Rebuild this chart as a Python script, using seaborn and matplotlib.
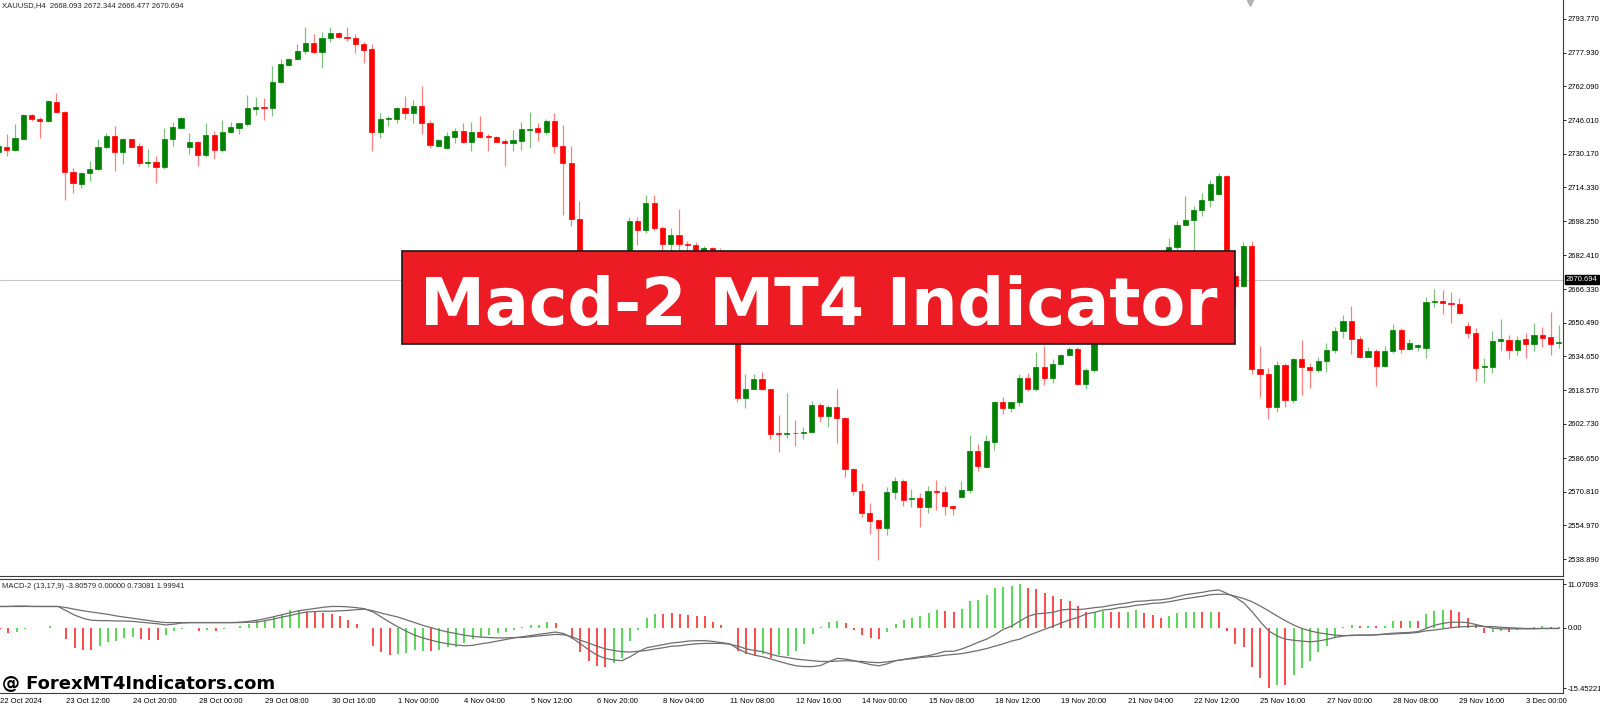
# XAUUSD H4 chart with the MACD-2 panel, redrawn from the screenshot
import numpy as np
import pandas as pd
import matplotlib
matplotlib.use('Agg')
import matplotlib.pyplot as plt
import matplotlib.transforms as mtransforms
from matplotlib.patches import Rectangle
import seaborn as sns


# candles, bar 0 = 22 Oct 2024
opens = [
    2731.0, 2733.5, 2731.8, 2737.3, 2748.5, 2746.6, 2745.8, 2754.8, 2750.1, 2721.8,
    2716.1, 2721.1, 2722.9, 2733.2, 2738.4, 2730.9, 2737.0, 2734.0, 2725.8, 2726.5,
    2724.1, 2737.2, 2742.5, 2733.4, 2735.7, 2729.5, 2738.9, 2732.1, 2740.5, 2742.5,
    2744.1, 2751.5, 2752.4, 2751.6, 2763.9, 2771.9, 2774.7, 2778.7, 2782.3, 2778.4,
    2784.7, 2787.3, 2785.4, 2784.7, 2782.0, 2779.5, 2740.6, 2746.4, 2746.6, 2751.6,
    2749.6, 2752.7, 2744.9, 2734.0, 2732.8, 2738.3, 2740.9, 2735.6, 2740.6, 2738.7,
    2738.3, 2736.1, 2735.3, 2736.4, 2741.6, 2742.2, 2740.6, 2745.8, 2734.0, 2726.0,
    2699.3, 2675.0, 2665.0, 2672.0, 2668.0, 2676.0, 2681.0, 2698.6, 2694.2, 2706.8,
    2695.0, 2687.5, 2691.9, 2687.6, 2687.0, 2684.5, 2685.7, 2684.5, 2672.0, 2662.0,
    2614.8, 2619.2, 2623.9, 2619.1, 2598.6, 2597.8, 2598.6, 2598.3, 2598.8, 2611.7,
    2606.5, 2610.9, 2605.4, 2581.3, 2571.3, 2560.9, 2557.4, 2553.8, 2570.5, 2576.0,
    2567.2, 2568.0, 2563.7, 2571.1, 2570.8, 2564.2, 2568.1, 2571.6, 2590.0, 2582.6,
    2594.4, 2612.9, 2610.1, 2612.9, 2624.6, 2619.1, 2629.8, 2624.6, 2631.0, 2635.2,
    2638.1, 2621.6, 2628.2, 2643.0, 2646.0, 2644.0, 2650.0, 2653.0, 2651.0, 2660.0,
    2668.0, 2673.0, 2686.0, 2696.6, 2698.9, 2703.7, 2708.4, 2711.2, 2719.9, 2672.5,
    2667.8, 2686.7, 2628.5, 2626.1, 2610.6, 2630.6, 2614.0, 2633.4, 2629.8, 2628.2,
    2632.4, 2637.6, 2646.6, 2651.3, 2642.7, 2634.5, 2637.3, 2630.2, 2637.3, 2647.1,
    2638.1, 2639.2, 2638.7, 2660.1, 2660.7, 2659.9, 2659.2, 2649.1, 2645.8, 2629.4,
    2629.8, 2641.9, 2642.4, 2637.6, 2642.7, 2640.5, 2644.5, 2643.9, 2640.8,
]
highs = [
    2734.3, 2739.5, 2744.2, 2748.8, 2748.8, 2747.4, 2755.6, 2758.7, 2750.5, 2723.3,
    2721.8, 2726.8, 2737.2, 2739.8, 2743.3, 2737.8, 2737.3, 2735.1, 2732.6, 2729.3,
    2742.2, 2745.3, 2747.4, 2740.2, 2736.2, 2744.6, 2740.9, 2746.1, 2745.2, 2744.9,
    2757.9, 2756.8, 2756.5, 2771.8, 2774.9, 2775.2, 2782.0, 2790.2, 2786.7, 2787.5,
    2790.2, 2787.8, 2790.2, 2786.5, 2782.8, 2782.0, 2749.6, 2748.2, 2752.1, 2757.4,
    2755.6, 2762.2, 2746.1, 2737.0, 2740.3, 2742.2, 2744.9, 2745.3, 2748.2, 2739.5,
    2738.6, 2737.0, 2741.4, 2745.0, 2750.1, 2744.6, 2746.6, 2749.6, 2743.8, 2733.9,
    2708.1, 2678.0, 2674.0, 2676.0, 2678.0, 2682.0, 2700.2, 2700.2, 2710.7, 2710.7,
    2696.1, 2695.0, 2704.0, 2689.2, 2688.7, 2686.5, 2686.2, 2685.5, 2675.0, 2664.0,
    2626.1, 2626.1, 2627.1, 2619.3, 2606.9, 2617.2, 2604.6, 2601.5, 2613.6, 2612.8,
    2611.7, 2619.1, 2606.2, 2581.8, 2574.7, 2565.6, 2557.6, 2573.2, 2577.6, 2576.6,
    2571.9, 2570.0, 2573.5, 2576.3, 2573.5, 2564.5, 2575.8, 2597.5, 2593.3, 2597.5,
    2613.6, 2615.3, 2613.2, 2626.1, 2626.6, 2636.5, 2639.7, 2633.2, 2635.6, 2639.2,
    2639.2, 2629.0, 2645.0, 2648.0, 2650.0, 2652.0, 2655.0, 2658.0, 2662.0, 2670.0,
    2676.0, 2690.3, 2698.6, 2710.3, 2705.5, 2711.5, 2717.8, 2721.3, 2720.2, 2673.8,
    2688.7, 2689.0, 2639.5, 2629.0, 2632.6, 2631.7, 2633.7, 2642.4, 2631.6, 2634.2,
    2640.8, 2648.6, 2654.1, 2658.4, 2644.2, 2639.2, 2637.9, 2639.7, 2649.9, 2647.8,
    2642.7, 2640.3, 2662.8, 2666.4, 2665.9, 2665.1, 2662.3, 2650.7, 2647.8, 2634.0,
    2646.6, 2652.1, 2644.7, 2644.4, 2645.5, 2650.5, 2648.3, 2655.7, 2649.4,
]
lows = [
    2730.6, 2729.1, 2731.5, 2737.0, 2745.8, 2737.5, 2745.3, 2749.3, 2708.5, 2711.8,
    2714.2, 2717.5, 2722.5, 2732.3, 2722.2, 2725.4, 2733.2, 2724.4, 2724.1, 2716.6,
    2723.2, 2733.9, 2742.2, 2730.1, 2724.6, 2728.8, 2727.7, 2730.9, 2739.8, 2739.7,
    2743.5, 2748.6, 2746.1, 2748.0, 2763.7, 2771.8, 2774.4, 2777.3, 2777.9, 2770.5,
    2783.1, 2784.7, 2783.6, 2777.9, 2773.2, 2731.5, 2737.8, 2743.3, 2744.6, 2746.6,
    2744.9, 2739.5, 2733.1, 2733.2, 2732.4, 2735.1, 2735.1, 2731.7, 2737.5, 2731.7,
    2735.6, 2724.6, 2731.7, 2732.0, 2732.8, 2736.4, 2739.5, 2730.7, 2701.3, 2696.1,
    2672.0, 2660.0, 2662.0, 2664.0, 2666.0, 2674.0, 2679.0, 2687.2, 2693.0, 2694.2,
    2684.0, 2684.0, 2684.0, 2684.0, 2683.0, 2683.0, 2680.0, 2668.0, 2658.0, 2613.3,
    2610.4, 2619.0, 2618.8, 2595.5, 2589.7, 2596.0, 2592.3, 2595.5, 2598.3, 2603.8,
    2601.1, 2593.6, 2577.9, 2569.2, 2559.0, 2550.8, 2538.6, 2550.3, 2567.2, 2564.0,
    2563.4, 2554.3, 2560.9, 2562.1, 2559.8, 2559.8, 2567.9, 2570.0, 2580.7, 2582.3,
    2590.4, 2607.4, 2608.2, 2611.4, 2618.3, 2618.4, 2621.1, 2622.2, 2630.7, 2634.8,
    2621.1, 2619.1, 2627.4, 2640.0, 2642.0, 2643.0, 2647.0, 2649.0, 2650.0, 2658.0,
    2665.0, 2671.0, 2684.8, 2696.4, 2684.0, 2700.8, 2705.2, 2710.7, 2668.0, 2658.4,
    2667.5, 2626.3, 2615.6, 2605.1, 2608.5, 2610.9, 2612.5, 2616.4, 2619.5, 2627.4,
    2627.1, 2636.4, 2643.4, 2635.6, 2633.7, 2634.2, 2620.8, 2629.8, 2636.4, 2636.0,
    2637.6, 2637.2, 2634.0, 2658.1, 2654.6, 2650.5, 2654.6, 2643.1, 2623.0, 2621.9,
    2626.6, 2637.3, 2633.4, 2635.3, 2634.0, 2637.3, 2639.2, 2635.3, 2638.7,
]
closes = [
    2733.9, 2732.0, 2737.8, 2748.3, 2746.4, 2745.8, 2754.9, 2749.7, 2721.6, 2716.3,
    2721.3, 2723.0, 2733.5, 2738.7, 2730.9, 2737.2, 2733.5, 2726.0, 2726.5, 2724.1,
    2737.2, 2742.7, 2747.1, 2735.7, 2729.5, 2738.9, 2732.1, 2740.6, 2742.7, 2744.6,
    2751.6, 2752.4, 2751.8, 2764.2, 2772.4, 2774.9, 2778.8, 2782.3, 2778.4, 2784.7,
    2787.0, 2785.4, 2784.7, 2782.0, 2779.1, 2740.6, 2746.6, 2746.9, 2751.6, 2749.6,
    2752.7, 2744.9, 2734.2, 2736.7, 2738.4, 2741.1, 2735.9, 2740.6, 2738.3, 2738.3,
    2735.9, 2735.3, 2736.5, 2741.7, 2742.0, 2740.6, 2745.8, 2734.0, 2726.0, 2699.3,
    2675.0, 2665.0, 2672.0, 2668.0, 2676.0, 2681.0, 2698.6, 2694.2, 2706.8, 2695.0,
    2687.5, 2691.9, 2687.6, 2687.2, 2684.8, 2685.7, 2684.5, 2672.0, 2662.0, 2614.8,
    2619.2, 2623.9, 2619.1, 2598.0, 2598.0, 2598.6, 2598.3, 2599.1, 2611.7, 2606.5,
    2610.9, 2605.4, 2581.3, 2571.3, 2560.9, 2557.1, 2553.8, 2570.5, 2576.0, 2566.9,
    2568.0, 2563.7, 2571.1, 2570.6, 2564.2, 2563.2, 2571.6, 2590.0, 2582.9, 2594.7,
    2613.2, 2610.1, 2612.9, 2624.6, 2619.1, 2629.8, 2624.6, 2631.0, 2635.2, 2638.1,
    2621.6, 2628.2, 2643.0, 2646.0, 2644.0, 2650.0, 2653.0, 2651.0, 2660.0, 2668.0,
    2673.0, 2686.0, 2696.6, 2698.9, 2703.7, 2708.4, 2715.8, 2719.9, 2672.5, 2667.8,
    2686.7, 2628.5, 2626.1, 2610.6, 2630.6, 2614.0, 2633.4, 2629.4, 2628.2, 2632.4,
    2637.6, 2646.6, 2651.3, 2642.7, 2634.5, 2637.3, 2630.2, 2637.3, 2647.1, 2638.1,
    2640.8, 2639.9, 2660.1, 2660.7, 2659.6, 2659.2, 2654.9, 2645.8, 2629.3, 2630.1,
    2641.9, 2642.7, 2637.6, 2642.4, 2640.5, 2644.7, 2643.1, 2640.5, 2641.5,
]

# MACD-2 (13,17,9) histogram, its colour per bar (g/r) and the two lines
hist = [
    -0.3, -1.4, -1.1, -0.3, -0.1, -0.2, 0.4, -0.1, -2.8, -5.1,
    -5.8, -5.8, -4.7, -3.6, -3.5, -2.6, -2.4, -2.8, -3.1, -3.2,
    -1.9, -0.8, -0.3, -0.1, -0.8, -0.5, -0.8, -0.3, -0.2, 0.5,
    1.0, 2.0, 2.0, 2.7, 3.6, 4.4, 4.6, 4.0, 4.0, 3.7,
    3.6, 2.9, 2.0, 1.0, -0.2, -4.7, -6.2, -7.0, -6.6, -6.4,
    -5.8, -5.9, -5.9, -5.6, -5.0, -4.8, -4.0, -2.9, -2.4, -1.9,
    -1.4, -1.0, -0.5, 0.2, 0.8, 0.8, 1.4, 1.1, -0.2, -3.0,
    -6.3, -8.5, -9.8, -10.1, -9.1, -7.6, -3.3, -0.5, 2.5, 3.5,
    3.5, 3.8, 3.6, 3.3, 3.0, 2.9, 1.5, 0.7, -0.2, -6.0,
    -6.8, -7.0, -6.8, -7.8, -7.0, -7.2, -6.0, -4.2, -1.7, 0.2,
    1.5, 1.7, 1.2, -0.5, -1.9, -2.5, -2.8, -1.0, 1.0, 1.9,
    2.5, 3.0, 3.8, 4.4, 4.2, 4.1, 4.7, 6.8, 7.0, 8.3,
    10.0, 10.4, 10.6, 11.07, 10.0, 9.8, 8.8, 8.0, 7.2, 6.8,
    5.5, 4.1, 4.1, 4.2, 4.1, 4.1, 4.1, 4.5, 3.8, 3.2,
    2.4, 3.0, 3.8, 4.1, 4.1, 4.1, 4.1, 4.1, -0.8, -4.2,
    -4.8, -9.9, -12.8, -15.45, -14.5, -14.5, -12.0, -10.3, -8.5, -6.3,
    -4.6, -2.3, 0.2, 0.6, 0.4, 0.4, 0.4, 0.5, 1.7, 1.7,
    1.8, 1.7, 3.4, 4.3, 4.6, 4.5, 3.9, 2.4, 0.9, -1.4,
    -1.0, -0.8, -1.0, -0.6, -0.4, 0.3, 0.4, 0.3, 0.2,
]
hist_colors = ("rrgggrgrrr" "rrgggggrrr" "gggrrgrggg" "gggggggrrr" "rrrrrrrrgg"
               "ggrggggggg" "gggggggrrr" "rrrrgggggg" "rrrrrrrrrr" "rrgrgggggg"
               "ggrrrrrggg" "ggggrrgggg" "ggggrrrrrr" "rrggrrggrr" "rggggrgrrr"
               "rrrrgrgggg" "ggggrgrggr" "grgggrrrrr" "ggrggggrr")
macd_main = [
    5.4, 5.4, 5.5, 5.5, 5.4, 5.4, 5.4, 5.4, 4.3, 3.2,
    2.4, 1.9, 1.8, 1.8, 1.7, 1.7, 1.6, 1.4, 1.2, 1.0,
    0.7, 0.9, 1.2, 1.3, 1.3, 1.3, 1.3, 1.3, 1.3, 1.4,
    1.6, 1.9, 2.3, 2.8, 3.3, 3.8, 4.3, 4.6, 4.9, 5.2,
    5.4, 5.4, 5.3, 5.1, 4.8, 4.0, 2.7, 1.4, 0.2, -0.9,
    -1.9, -2.6, -3.2, -3.7, -4.1, -4.4, -4.6, -4.5, -4.1, -3.8,
    -3.4, -3.0, -2.6, -2.3, -2.0, -1.7, -1.4, -1.1, -1.5, -2.6,
    -4.1, -5.6, -7.0, -7.8, -8.2, -8.4, -7.4, -6.1, -5.1, -4.7,
    -4.3, -3.9, -3.7, -3.4, -3.3, -3.3, -3.5, -3.8, -4.1, -5.4,
    -6.4, -7.0, -7.4, -8.0, -8.6, -9.2, -9.7, -9.9, -9.9, -9.6,
    -8.6, -7.8, -8.0, -8.4, -8.9, -9.4, -9.7, -9.2, -8.4, -8.1,
    -7.7, -7.4, -7.1, -6.6, -6.0, -6.0, -5.4, -4.6, -3.7, -2.9,
    -1.8, -0.4, 0.4, 1.7, 2.9, 3.5, 3.7, 3.9, 4.5, 4.7,
    4.6, 4.8, 5.1, 5.3, 5.7, 6.0, 6.3, 6.7, 6.8, 7.0,
    7.1, 7.4, 7.9, 8.4, 8.7, 9.0, 9.4, 9.6, 8.7, 7.7,
    6.3, 4.1, 1.5, -0.8, -2.1, -2.9, -3.2, -3.4, -3.6, -3.4,
    -3.0, -2.5, -2.1, -1.9, -1.9, -1.9, -1.8, -1.6, -1.4, -1.3,
    -1.2, -1.0, -0.2, 0.6, 1.1, 1.4, 1.4, 1.3, 0.8, 0.3,
    -0.1, -0.3, -0.3, -0.3, -0.3, -0.3, -0.2, -0.2, -0.2,
]
macd_signal = [
    5.4, 5.4, 5.4, 5.4, 5.4, 5.4, 5.4, 5.4, 5.1, 4.7,
    4.3, 4.0, 3.7, 3.4, 3.0, 2.7, 2.4, 2.1, 1.8, 1.5,
    1.3, 1.3, 1.3, 1.3, 1.3, 1.3, 1.3, 1.3, 1.3, 1.3,
    1.4, 1.4, 1.8, 2.2, 2.7, 3.1, 3.6, 4.0, 4.1, 4.2,
    4.2, 4.3, 4.4, 4.6, 4.7, 4.3, 3.7, 3.2, 2.7, 2.0,
    1.3, 0.6, 0.0, -0.6, -1.1, -1.5, -1.9, -2.2, -2.4, -2.5,
    -2.6, -2.6, -2.5, -2.5, -2.3, -2.1, -1.9, -1.7, -1.8, -2.3,
    -3.2, -3.9, -4.7, -5.4, -5.8, -6.1, -6.2, -6.0, -5.8, -5.4,
    -5.1, -4.7, -4.6, -4.3, -4.1, -4.0, -4.0, -4.0, -4.2, -4.7,
    -5.4, -5.8, -6.1, -6.8, -7.3, -7.6, -8.0, -8.2, -8.4, -8.6,
    -8.6, -8.5, -8.4, -8.5, -8.6, -8.8, -8.9, -8.7, -8.4, -8.1,
    -7.9, -7.6, -7.4, -7.3, -7.0, -6.8, -6.6, -6.2, -5.8, -5.3,
    -4.7, -4.1, -3.4, -2.9, -2.0, -1.2, -0.4, 0.4, 1.2, 2.0,
    2.6, 3.5, 3.9, 4.5, 4.7, 5.1, 5.3, 5.7, 5.9, 6.2,
    6.3, 6.6, 7.0, 7.4, 7.7, 8.0, 8.4, 8.5, 8.5, 8.0,
    7.4, 6.6, 5.5, 4.3, 3.0, 1.8, 0.7, -0.2, -0.8, -1.3,
    -1.6, -1.9, -2.0, -2.0, -1.9, -1.9, -1.8, -1.7, -1.6, -1.5,
    -1.4, -1.2, -0.8, -0.6, -0.3, 0.0, 0.2, 0.3, 0.4, 0.3,
    0.3, 0.1, 0.0, -0.1, -0.2, -0.2, -0.2, -0.2, -0.2,
]

# axis texts
time_labels = ['22 Oct 2024', '23 Oct 12:00', '24 Oct 20:00', '28 Oct 00:00',
               '29 Oct 08:00', '30 Oct 16:00', '1 Nov 00:00', '4 Nov 04:00',
               '5 Nov 12:00', '6 Nov 20:00', '8 Nov 04:00', '11 Nov 08:00',
               '12 Nov 16:00', '14 Nov 00:00', '15 Nov 08:00', '18 Nov 12:00',
               '19 Nov 20:00', '21 Nov 04:00', '22 Nov 12:00', '25 Nov 16:00',
               '27 Nov 00:00', '28 Nov 08:00', '29 Nov 16:00', '3 Dec 00:00']
label_every = 8
price_ticks = [2793.770, 2777.930, 2762.090, 2746.010, 2730.170, 2714.330,
               2698.250, 2682.410, 2666.330, 2650.490, 2634.650, 2618.570,
               2602.730, 2586.650, 2570.810, 2554.970, 2538.890]
macd_ticks = [11.07093, 0.0, -15.45221]
macd_tick_labels = ['11.07093', '0.00', '-15.45221']
last_price = 2670.694
header = 'XAUUSD,H4  2668.093 2672.344 2666.477 2670.694'
macd_header = 'MACD-2 (13,17,9) -3.80579 0.00000 0.73081 1.99941'

UP, DOWN = '#008000', '#ff0000'
HIST_UP, HIST_DOWN = '#3ad23a', '#ff2b2b'

sns.set_style('white')
plt.rcParams['font.family'] = ['Liberation Sans', 'DejaVu Sans']

# build the frames
candles = pd.DataFrame({'open': opens, 'high': highs, 'low': lows, 'close': closes})
candles['bar'] = np.arange(len(candles))
candles['color'] = np.where(candles.close >= candles.open, UP, DOWN)
candles['body_lo'] = candles[['open', 'close']].min(axis=1)
candles['body_h'] = (candles.close - candles.open).abs()

macd = pd.DataFrame({'histo': hist, 'main': macd_main, 'signal': macd_signal})
macd['bar'] = np.arange(len(macd))
macd['color'] = [HIST_UP if c == 'g' else HIST_DOWN for c in hist_colors]

W, H = 1600, 704
fig = plt.figure(figsize=(W / 100, H / 100), dpi=100)
ax = fig.add_axes([0, 1 - 576 / H, 1563 / W, 576 / H])
ax2 = fig.add_axes([0, 1 - 693 / H, 1563 / W, 114 / H])

# price panel
ax.vlines(candles['bar'], candles['low'], candles['high'], colors=candles['color'],
          lw=0.9, alpha=0.5, zorder=2)
ax.bar(candles['bar'], candles['body_h'], bottom=candles['body_lo'], width=0.62,
       color=candles['color'], edgecolor=candles['color'], linewidth=0.5, zorder=3)
ax.axhline(last_price, color='#c8c8c8', lw=0.8, zorder=1)
ax.set_xlim(0.2, 188.5)
ax.set_ylim(2531.0, 2802.73)
ax.set_xticks([])
ax.yaxis.tick_right()
ax.set_yticks(price_ticks)
ax.set_yticklabels([f'{p:.3f}' for p in price_ticks])
ax.tick_params(axis='y', length=2, width=0.6, pad=1.5, labelsize=5.5, colors='black')
ax.text(2 / 1563, 1 - 6 / 576, header, transform=ax.transAxes, va='center', fontsize=5.5)
blend = mtransforms.blended_transform_factory(ax.transAxes, ax.transData)
ax.text(1 + 3 / 1563, last_price, f'{last_price:.3f}', transform=blend, ha='left',
        va='center', fontsize=5.5, color='white', clip_on=False,
        bbox=dict(boxstyle='square,pad=0.12', fc='black', ec='black'))
ax.plot([1250 / 1563], [1 - 3 / 576], marker='v', ms=5, color='#b4b4b4',
        transform=ax.transAxes, clip_on=False)

# MACD panel
ax2.vlines(macd['bar'], 0, macd['histo'], colors=macd['color'], lw=1.2, zorder=2)
sns.lineplot(data=macd, x='bar', y='main', ax=ax2, color='#6e6e6e', lw=0.9, zorder=3)
sns.lineplot(data=macd, x='bar', y='signal', ax=ax2, color='#6e6e6e', lw=0.9, zorder=3)
ax2.set_xlim(0.2, 188.5)
ax2.set_ylim(-16.62, 12.39)
ax2.set_xlabel('')
ax2.set_ylabel('')
ax2.yaxis.tick_right()
ax2.set_yticks(macd_ticks)
ax2.set_yticklabels(macd_tick_labels)
ax2.tick_params(axis='y', length=2, width=0.6, pad=1.5, labelsize=5.5, colors='black')
ax2.set_xticks(np.arange(len(time_labels)) * label_every)
ax2.set_xticklabels(time_labels, ha='left')
ax2.tick_params(axis='x', length=3, width=0.6, pad=0.5, labelsize=5.5, colors='black')
ax2.text(2 / 1563, 1 - 7 / 114, macd_header, transform=ax2.transAxes, va='center', fontsize=5.5)

for a in (ax, ax2):
    for side in ('left', 'top', 'right', 'bottom'):
        a.spines[side].set_color('#3c3c3c')
        a.spines[side].set_linewidth(0.8)
    a.spines['left'].set_visible(False)
ax.spines['top'].set_visible(False)

# title banner and watermark
fig.add_artist(Rectangle((402 / W, 1 - 344 / H), 833 / W, 93 / H, transform=fig.transFigure,
                         facecolor='#ed1c24', edgecolor='#1a1a1a', linewidth=1.2, zorder=10))
fig.text(819 / W, 1 - 325.5 / H, 'Macd-2 MT4 Indicator', ha='center', va='baseline',
         fontsize=47, fontweight='bold', color='white', family='DejaVu Sans', zorder=11)
fig.text(2 / W, 1 - 688.5 / H, '@ ForexMT4Indicators.com', ha='left', va='baseline',
         fontsize=13, fontweight='bold', color='black', family='DejaVu Sans', zorder=11)

fig.savefig('out.png', dpi=100, facecolor='white')
